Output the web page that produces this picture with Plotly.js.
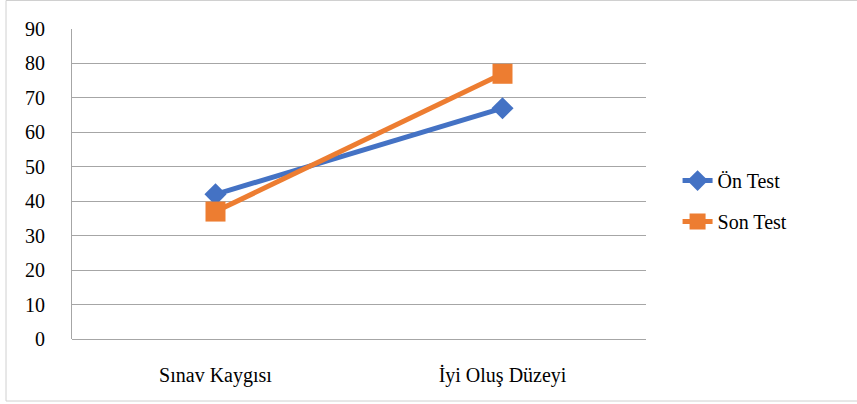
<!DOCTYPE html>
<html>
<head>
<meta charset="utf-8">
<script src="https://cdn.plot.ly/plotly-3.0.1.min.js"></script>
</head>
<body style="margin:0;background:#fff">
<div id="chart"></div>
<script>
const categories = ["Sınav Kaygısı", "İyi Oluş Düzeyi"];
const onTest = [42, 67];
const sonTest = [37, 77];
const seriesNames = ["Ön Test", "Son Test"];
const yTicks = [0, 10, 20, 30, 40, 50, 60, 70, 80, 90];

function mkFont() { return {family: "Times New Roman", size: 20, color: "#000000"}; }

const traces = [
  {
    x: categories, y: onTest, name: seriesNames[0], type: "scatter", mode: "lines+markers",
    line: {color: "#4472C4", width: 5},
    marker: {symbol: "diamond", size: 17, color: "#4472C4"},
    legendgroup: "a"
  },
  {
    x: categories, y: sonTest, name: seriesNames[1], type: "scatter", mode: "lines+markers",
    line: {color: "#ED7D31", width: 5},
    marker: {symbol: "square", size: 20, color: "#ED7D31"},
    legendgroup: "b"
  }
];

const layout = {
  width: 857, height: 404,
  margin: {l: 72, r: 211, t: 29, b: 65},
  paper_bgcolor: "#ffffff", plot_bgcolor: "#ffffff",
  font: mkFont(),
  showlegend: true,
  legend: {x: 1.055, y: 0.445, xanchor: "left", yanchor: "middle", font: mkFont(),
           traceorder: "grouped", tracegroupgap: 12, bgcolor: "rgba(0,0,0,0)"},
  xaxis: {
    type: "category", range: [-0.5, 1.5],
    showgrid: false, zeroline: false, showline: false,
    ticks: "outside", ticklen: 18, tickcolor: "rgba(0,0,0,0)",
    tickfont: mkFont()
  },
  yaxis: {
    range: [0, 90], tickvals: yTicks, ticktext: yTicks.map(String),
    showgrid: true, gridcolor: "#a6a6a6", gridwidth: 1,
    zeroline: true, zerolinecolor: "#a6a6a6", zerolinewidth: 1,
    showline: true, linecolor: "#a6a6a6", linewidth: 1,
    ticks: "outside", ticklen: 22, tickcolor: "rgba(0,0,0,0)",
    tickfont: mkFont()
  },
  shapes: [
    {type: "rect", xref: "paper", yref: "paper",
     x0: -66/574, x1: (880-72)/574, y0: -(401-339)/310, y1: (339-0.5)/310,
     line: {color: "#d0d0d0", width: 1}, fillcolor: "rgba(0,0,0,0)", layer: "below"}
  ]
};

Plotly.newPlot("chart", traces, layout, {displayModeBar: false});
</script>
</body>
</html>
